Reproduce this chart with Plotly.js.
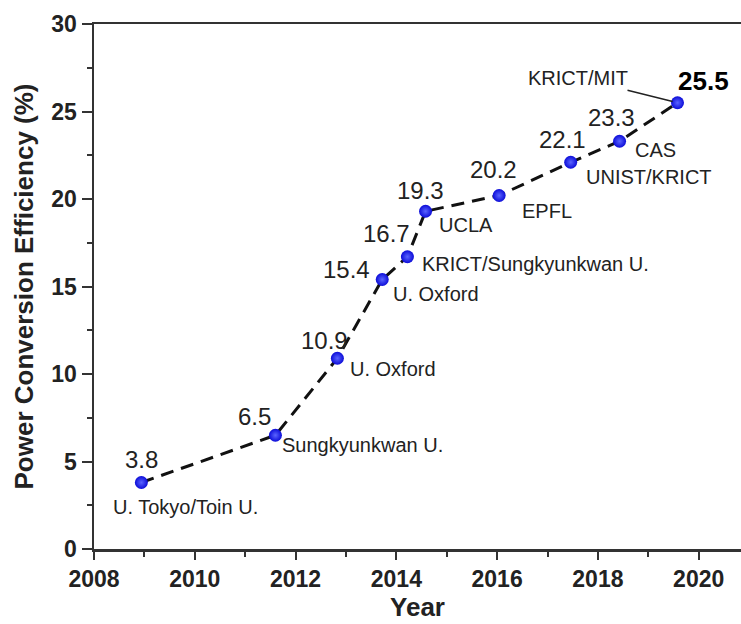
<!DOCTYPE html>
<html>
<head>
<meta charset="utf-8">
<script src="https://cdn.plot.ly/plotly-3.0.1.min.js"></script>
<style>html,body{margin:0;padding:0;background:#fff;}#chart{width:741px;height:624px;}</style>
</head>
<body>
<div id="chart"></div>
<script>
// Data
const years = [2008.94, 2011.60, 2012.83, 2013.72, 2014.22, 2014.58, 2016.04, 2017.46, 2018.43, 2019.58];
const efficiency = [3.8, 6.5, 10.9, 15.4, 16.7, 19.3, 20.2, 22.1, 23.3, 25.5];
const institutions = ["U. Tokyo/Toin U.", "Sungkyunkwan U.", "U. Oxford", "U. Oxford",
  "KRICT/Sungkyunkwan U.", "UCLA", "EPFL", "UNIST/KRICT", "CAS", "KRICT/MIT"];
const xTickVals = [2008, 2010, 2012, 2014, 2016, 2018, 2020];
const yTickVals = [0, 5, 10, 15, 20, 25, 30];

// Label placement (pixel offsets from each point)
const valueOffsets = [[0,-23],[-21,-19],[-13,-18],[-36,-10],[-21,-23],[-5,-21],[-6,-26],[-8,-23],[-8,-24],[26,-22]];
const instOffsets = [[-30,24],[5,10],[11,11],[9,14],[13,7],[11,14],[21,15],[13,15],[13,9]];

const FONT = "Liberation Sans, Arial, sans-serif";
const annotations = [];
efficiency.forEach((v, i) => {
  const last = i === efficiency.length - 1;
  annotations.push({
    x: years[i], y: v, xref: 'x', yref: 'y', text: v.toFixed(1), showarrow: false,
    xanchor: 'center', yanchor: 'middle', xshift: valueOffsets[i][0], yshift: -valueOffsets[i][1],
    font: {family: FONT, size: last ? 26 : 24, color: last ? '#000' : '#222', weight: last ? 'bold' : 'normal'}
  });
  if (i < instOffsets.length) {
    annotations.push({
      x: years[i], y: v, xref: 'x', yref: 'y', text: institutions[i], showarrow: false,
      xanchor: 'left', yanchor: 'middle', xshift: instOffsets[i][0], yshift: -instOffsets[i][1],
      font: {family: FONT, size: 20, color: '#222'}
    });
  } else {
    annotations.push({
      x: years[i], y: v, xref: 'x', yref: 'y', text: institutions[i], showarrow: true,
      arrowhead: 0, arrowwidth: 1.5, arrowcolor: '#222', ax: -100, ay: -25, standoff: 5,
      xanchor: 'center', yanchor: 'middle',
      font: {family: FONT, size: 20, color: '#222'}
    });
  }
});

const trace = {
  x: years, y: efficiency, type: 'scatter', mode: 'lines+markers',
  line: {color: '#111', width: 3, dash: '13px,8px'},
  marker: {size: 13, color: '#0c0cd8', gradient: {type: 'radial', color: '#5a64ff'}, line: {width: 0}},
  hoverinfo: 'x+y'
};

const layout = {
  width: 741, height: 624,
  margin: {l: 94, r: 0, t: 24, b: 75},
  paper_bgcolor: '#fff', plot_bgcolor: '#fff',
  showlegend: false,
  font: {family: FONT, color: '#222'},
  xaxis: {
    range: [2008, 2020.84], tickvals: xTickVals, ticktext: xTickVals.map(String),
    ticks: 'outside', ticklen: 8, tickwidth: 2, tickcolor: '#333',
    minor: {dtick: 1, tick0: 2008, ticks: 'outside', ticklen: 5, tickwidth: 2, tickcolor: '#333'},
    showline: true, linecolor: '#333', linewidth: 2.5, mirror: true,
    showgrid: false, zeroline: false,
    tickfont: {family: FONT, size: 23, color: '#222', weight: 'bold'},
    title: {text: 'Year', font: {family: FONT, size: 26, color: '#222', weight: 'bold'}, standoff: 6}
  },
  yaxis: {
    range: [0, 30], tickvals: yTickVals, ticktext: yTickVals.map(String),
    ticks: 'outside', ticklen: 10, tickwidth: 2, tickcolor: '#333',
    minor: {dtick: 2.5, tick0: 0, ticks: 'outside', ticklen: 5, tickwidth: 2, tickcolor: '#333'},
    showline: true, linecolor: '#333', linewidth: 2.5,
    showgrid: false, zeroline: false,
    tickfont: {family: FONT, size: 23, color: '#222', weight: 'bold'},
    title: {text: 'Power Conversion Efficiency (%)', font: {family: FONT, size: 26, color: '#222', weight: 'bold'}, standoff: 10}
  },
  annotations: annotations
};

Plotly.newPlot('chart', [trace], layout, {displayModeBar: false, staticPlot: true});
</script>
</body>
</html>
